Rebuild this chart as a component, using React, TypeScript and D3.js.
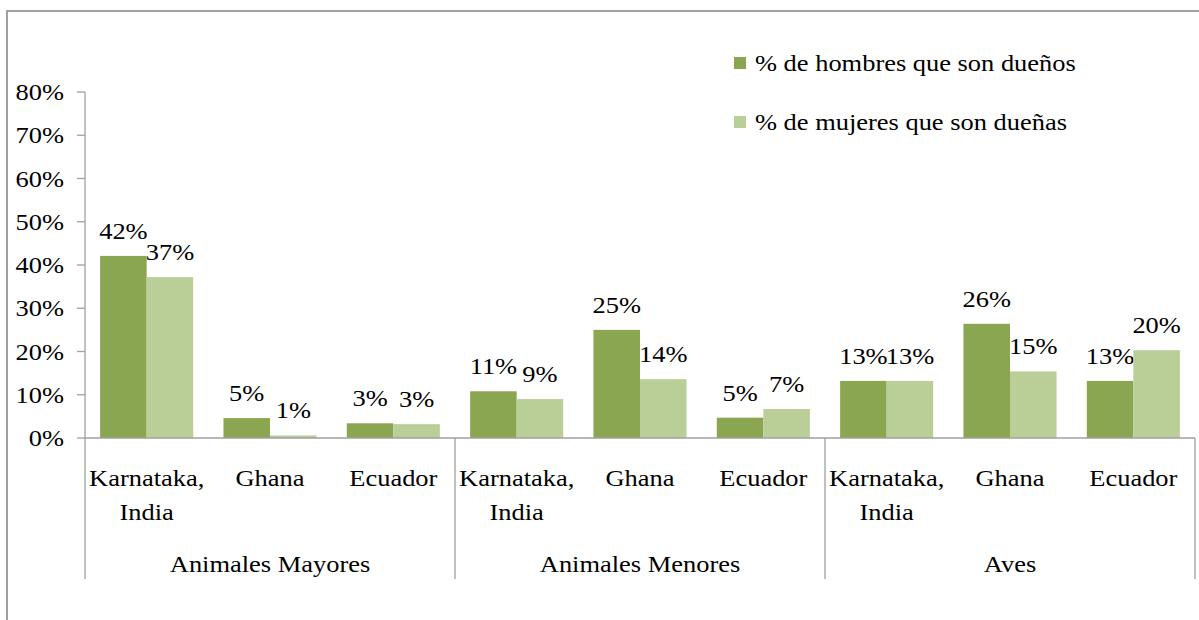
import React from "react";
import * as d3 from "d3";

const groups = ["Animales Mayores", "Animales Menores", "Aves"];
const categories = ["Karnataka, India", "Ghana", "Ecuador"];
const categoryLines: string[][] = [["Karnataka,", "India"], ["Ghana"], ["Ecuador"]];
const seriesNames = ["% de hombres que son dueños", "% de mujeres que son dueñas"];
const seriesColors = ["#8AA650", "#BACF98"];
// values per group, per category
const hombres = [
  [0.421, 0.046, 0.034],
  [0.108, 0.25, 0.047],
  [0.132, 0.264, 0.132],
];
const mujeres = [
  [0.372, 0.006, 0.032],
  [0.09, 0.136, 0.067],
  [0.132, 0.154, 0.203],
];
const yTicks = [0, 0.1, 0.2, 0.3, 0.4, 0.5, 0.6, 0.7, 0.8];

const W = 1199;
const H = 620;
const FONT = "'Liberation Serif', 'Times New Roman', 'DejaVu Serif', serif";
const FS = 23;
const SX = 1.15;

function Txt(props: {
  x: number;
  y: number;
  anchor?: "start" | "middle" | "end";
  dy?: string;
  children: React.ReactNode;
}) {
  return (
    <text
      transform={`translate(${props.x},${props.y}) scale(${SX},1)`}
      textAnchor={props.anchor || "start"}
      dy={props.dy}
      fontSize={FS}
      fill="#000"
    >
      {props.children}
    </text>
  );
}

export default function App() {
  const left = 85;
  const right = 1195;
  const y = d3.scaleLinear().domain([0, 0.8]).range([438, 92]);
  const x0 = d3.scaleBand<string>().domain(groups).range([left, right]).padding(0);
  const x1 = d3.scaleBand<string>().domain(categories).range([0, x0.bandwidth()]).padding(0);
  const x2 = d3
    .scaleBand<string>()
    .domain(seriesNames)
    .range([0, x1.bandwidth()])
    .paddingInner(0)
    .paddingOuter(0.325);
  const fmt = d3.format(".0%");
  const seriesData = [hombres, mujeres];
  const axisColor = "#a0a0a0";
  const y0 = y(0);

  return (
    <svg
      width={W}
      height={H}
      style={{ position: "absolute", left: 0, top: 0, background: "#fff", fontFamily: FONT }}
    >
      {/* outer frame */}
      <line x1={7} x2={W} y1={11} y2={11} stroke={axisColor} strokeWidth={2} />
      <line x1={7} x2={7} y1={10} y2={H} stroke={axisColor} strokeWidth={2} />

      {/* y axis */}
      <line x1={left} x2={left} y1={y(0.8)} y2={y0} stroke={axisColor} strokeWidth={1.3} />
      {yTicks.map((t) => (
        <g key={t}>
          <line x1={left - 8} x2={left} y1={y(t)} y2={y(t)} stroke={axisColor} strokeWidth={1.3} />
          <Txt x={64} y={y(t)} dy="0.35em" anchor="end">
            {fmt(t)}
          </Txt>
        </g>
      ))}

      {/* bars */}
      {groups.map((g, gi) =>
        categories.map((c, ci) =>
          seriesNames.map((s, si) => {
            const v = seriesData[si][gi][ci];
            const bx = (x0(g) as number) + (x1(c) as number) + (x2(s) as number);
            return (
              <g key={g + c + s}>
                <rect
                  x={bx}
                  y={y(v)}
                  width={x2.bandwidth()}
                  height={y0 - y(v)}
                  fill={seriesColors[si]}
                />
                <Txt x={bx + x2.bandwidth() / 2} y={y(v) - 17} anchor="middle">
                  {fmt(v)}
                </Txt>
              </g>
            );
          })
        )
      )}

      {/* x axis */}
      <line x1={left} x2={right} y1={y0} y2={y0} stroke={axisColor} strokeWidth={1.3} />
      {[...groups.map((g) => x0(g) as number), right].map((sx, i) => (
        <line key={i} x1={sx} x2={sx} y1={y0} y2={579} stroke={axisColor} strokeWidth={1.3} />
      ))}
      {groups.map((g) => (
        <g key={g}>
          {categories.map((c, ci) => {
            const cx = (x0(g) as number) + (x1(c) as number) + x1.bandwidth() / 2;
            return (
              <g key={c}>
                {categoryLines[ci].map((ln, li) => (
                  <Txt key={li} x={cx} y={486 + li * 34} anchor="middle">
                    {ln}
                  </Txt>
                ))}
              </g>
            );
          })}
          <Txt x={(x0(g) as number) + x0.bandwidth() / 2} y={572} anchor="middle">
            {g}
          </Txt>
        </g>
      ))}

      {/* legend */}
      {seriesNames.map((s, i) => (
        <g key={s}>
          <rect x={734} y={57 + i * 59} width={12} height={12} fill={seriesColors[i]} />
          <Txt x={755} y={63 + i * 59} dy="0.35em">
            {s}
          </Txt>
        </g>
      ))}
    </svg>
  );
}
